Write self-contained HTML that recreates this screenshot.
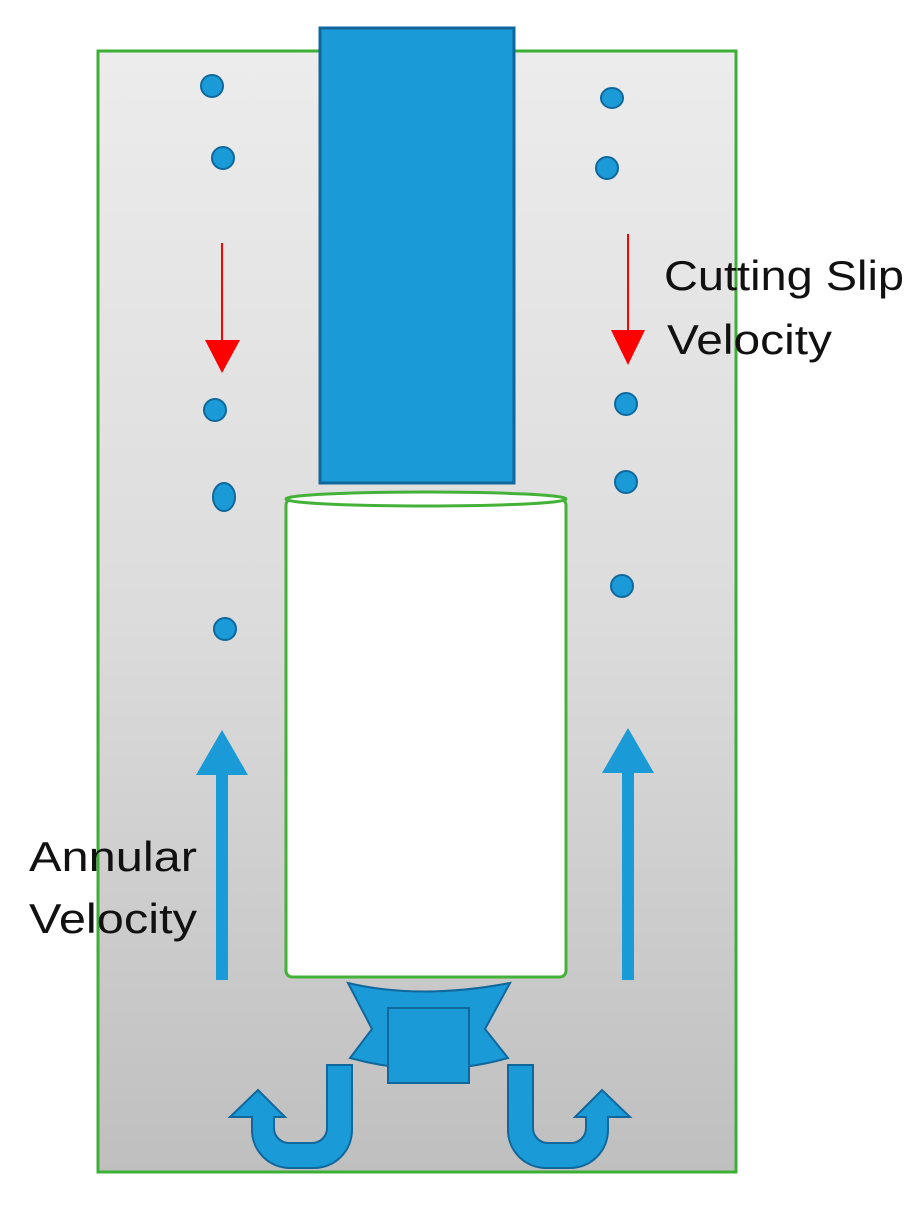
<!DOCTYPE html>
<html><head><style>body{margin:0;background:#fff}svg{display:block}</style></head><body>
<svg width="924" height="1215" viewBox="0 0 924 1215" xmlns="http://www.w3.org/2000/svg">
<defs><linearGradient id="g" x1="0" y1="0" x2="0" y2="1"><stop offset="0" stop-color="#ececec"/><stop offset="0.5" stop-color="#dcdcdc"/><stop offset="1" stop-color="#bfbfbf"/></linearGradient></defs>
<rect x="98" y="51" width="638" height="1121" fill="url(#g)" stroke="#3cb034" stroke-width="3"/>
<rect x="320" y="28" width="194" height="455" fill="#1a9ad6" stroke="#10679c" stroke-width="3"/>
<rect x="286" y="499" width="280" height="478" rx="6" fill="#fff" stroke="#44b238" stroke-width="3"/>
<ellipse cx="426" cy="499" rx="140" ry="7" fill="#fff" stroke="#44b238" stroke-width="3"/>
<g fill="#1a9ad6" stroke="#10679c" stroke-width="2">
<path d="M348,983 Q420,1000 510,983 L485,1029 L508,1058 Q430,1080 350,1058 L372,1029 Z"/>
<rect x="388" y="1008" width="81" height="75"/>
<path d="M327,1065 H352 V1130 A38,38 0 0 1 314,1168 H290 A38,38 0 0 1 252,1130 V1117 H230 L258,1090 L285,1117 H274 V1128 A15,15 0 0 0 289,1143 H312 A15,15 0 0 0 327,1128 Z"/>
<path d="M533,1065 H508 V1130 A38,38 0 0 0 546,1168 H570 A38,38 0 0 0 608,1130 V1117 H630 L602,1090 L575,1117 H586 V1128 A15,15 0 0 1 571,1143 H548 A15,15 0 0 1 533,1128 Z"/>
<ellipse cx="212" cy="86" rx="11" ry="11"/><ellipse cx="223" cy="158" rx="11" ry="11"/><ellipse cx="215" cy="410" rx="11" ry="11"/><ellipse cx="224" cy="497" rx="11" ry="14"/><ellipse cx="225" cy="629" rx="11" ry="11"/>
<ellipse cx="612" cy="98" rx="11" ry="10"/><ellipse cx="607" cy="168" rx="11" ry="11"/><ellipse cx="626" cy="404" rx="11" ry="11"/><ellipse cx="626" cy="482" rx="11" ry="11"/><ellipse cx="622" cy="586" rx="11" ry="11"/>
</g>
<g fill="#1a9ad6">
<path d="M216,980 V775 H196 L222,730 L248,775 H228 V980 Z"/>
<path d="M622,980 V773 H602 L628,728 L654,773 H634 V980 Z"/>
</g>
<g fill="#f00" stroke="#f00">
<line x1="222" y1="243" x2="222" y2="342" stroke-width="2"/><path d="M205,340 H240 L222,373 Z" stroke="none"/>
<line x1="628" y1="234" x2="628" y2="332" stroke-width="2"/><path d="M611,330 H645 L628,365 Z" stroke="none"/>
</g>
<g font-family="Liberation Sans, sans-serif" font-size="42" fill="#111">
<text x="664" y="290" textLength="240" lengthAdjust="spacingAndGlyphs">Cutting Slip</text><text x="667" y="354" textLength="165" lengthAdjust="spacingAndGlyphs">Velocity</text>
<text x="29" y="871" textLength="168" lengthAdjust="spacingAndGlyphs">Annular</text><text x="29" y="933" textLength="168" lengthAdjust="spacingAndGlyphs">Velocity</text>
</g>
</svg>
</body></html>
